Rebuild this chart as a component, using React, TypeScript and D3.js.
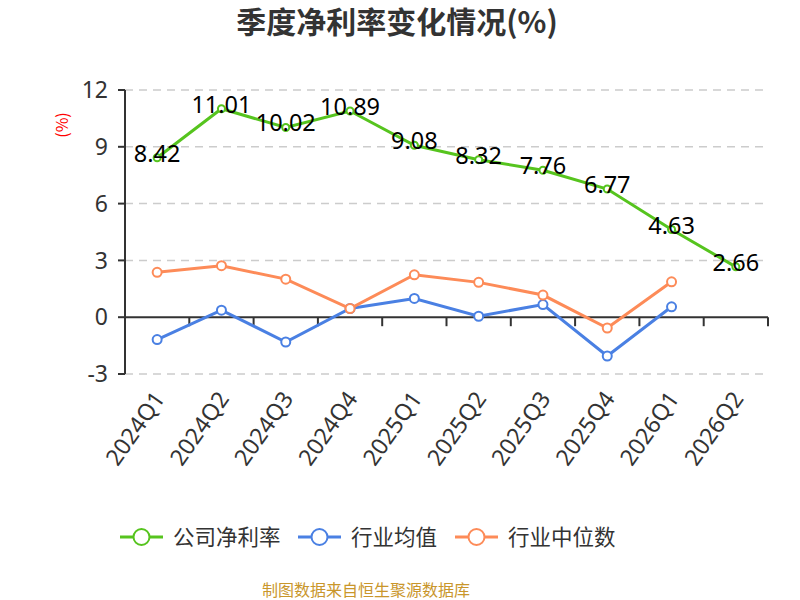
import React from "react";
import * as d3 from "d3";

const categories = ["2024Q1","2024Q2","2024Q3","2024Q4","2025Q1","2025Q2","2025Q3","2025Q4","2026Q1","2026Q2"];
const companyNet = [8.42, 11.01, 10.02, 10.89, 9.08, 8.32, 7.76, 6.77, 4.63, 2.66];
const industryAvg = [-1.18, 0.37, -1.31, 0.46, 0.99, 0.05, 0.67, -2.05, 0.55];
const industryMedian = [2.37, 2.72, 2.01, 0.46, 2.24, 1.84, 1.17, -0.57, 1.87];
const yTicks = [-3, 0, 3, 6, 9, 12];
const legendNames = ["公司净利率", "行业均值", "行业中位数"];

const FONT = "'Noto Sans CJK SC', 'Noto Sans', sans-serif";
const LATIN = "'Noto Sans', 'Noto Sans CJK SC', sans-serif";
const GREEN = "#56c41e";
const BLUE = "#4a80e3";
const ORANGE = "#fd8b58";

export default function App() {
  const left = 125, right = 768, top = 90, bottom = 374;
  const x = d3.scaleBand<string>().domain(categories).range([left, right]);
  const y = d3.scaleLinear().domain([-3, 12]).range([bottom, top]);
  const cx = (i: number) => (x(categories[i]) as number) + x.bandwidth() / 2;
  const line = d3.line<number>().x((_, i) => cx(i)).y((d) => y(d));
  const y0 = y(0);

  const series = [
    { name: legendNames[0], data: companyNet, color: GREEN, r: 3.5 },
    { name: legendNames[1], data: industryAvg, color: BLUE, r: 4.5 },
    { name: legendNames[2], data: industryMedian, color: ORANGE, r: 4.5 },
  ];
  const legendX = [120, 298, 455];

  return (
    <svg width={800} height={600} style={{ position: "absolute", left: 0, top: 0, background: "#fff" }} fontFamily={FONT}>
      <text x={397} y={33} textAnchor="middle" fontSize={30} fontWeight="bold" fill="#333">季度净利率变化情况(%)</text>
      <text transform="translate(68,125) rotate(-90)" textAnchor="middle" fontSize={16} fill="#ff0000">(%)</text>
      {yTicks.map((t) => (
        <g key={t}>
          {t !== 0 && (
            <line x1={left} x2={right} y1={y(t)} y2={y(t)} stroke="#cccccc" strokeWidth={1.5} strokeDasharray="8,6" />
          )}
          <line x1={left - 7} x2={left} y1={y(t)} y2={y(t)} stroke="#333" strokeWidth={2} />
          <text x={108} y={y(t)} dy="0.36em" textAnchor="end" fontSize={23} fontFamily={LATIN} fill="#333">{t}</text>
        </g>
      ))}
      <line x1={left} x2={left} y1={top} y2={bottom} stroke="#333" strokeWidth={2} />
      <line x1={left} x2={right} y1={y0} y2={y0} stroke="#333" strokeWidth={2} />
      {categories.map((c, i) => (
        <g key={c}>
          <line x1={(x(c) as number) + x.bandwidth()} x2={(x(c) as number) + x.bandwidth()} y1={y0} y2={y0 + 9} stroke="#333" strokeWidth={2} />
          <text transform={`translate(${cx(i) + 2},${394}) rotate(-55)`} textAnchor="end" dy="0.35em" fontSize={23} fontFamily={LATIN} fill="#333">{c}</text>
        </g>
      ))}
      {series.map((s) => (
        <g key={s.name}>
          <path d={line(s.data) || ""} fill="none" stroke={s.color} strokeWidth={3} />
          {s.data.map((v, i) => (
            <circle key={i} cx={cx(i)} cy={y(v)} r={s.r} fill="#fff" stroke={s.color} strokeWidth={2} />
          ))}
        </g>
      ))}
      {companyNet.map((v, i) => (
        <text key={i} x={cx(i)} y={y(v) + 4} textAnchor="middle" fontSize={23.5} fontFamily={LATIN} fill="#000">{v.toFixed(2)}</text>
      ))}
      {series.map((s, k) => (
        <g key={s.name}>
          <line x1={legendX[k]} x2={legendX[k] + 43} y1={537} y2={537} stroke={s.color} strokeWidth={3} />
          <circle cx={legendX[k] + 21.5} cy={537} r={8} fill="#fff" stroke={s.color} strokeWidth={2} />
          <text x={legendX[k] + 53} y={537} dy="0.36em" fontSize={21.5} fill="#333">{s.name}</text>
        </g>
      ))}
      <text x={366} y={596} textAnchor="middle" fontSize={16} fill="#c9962b">制图数据来自恒生聚源数据库</text>
    </svg>
  );
}
